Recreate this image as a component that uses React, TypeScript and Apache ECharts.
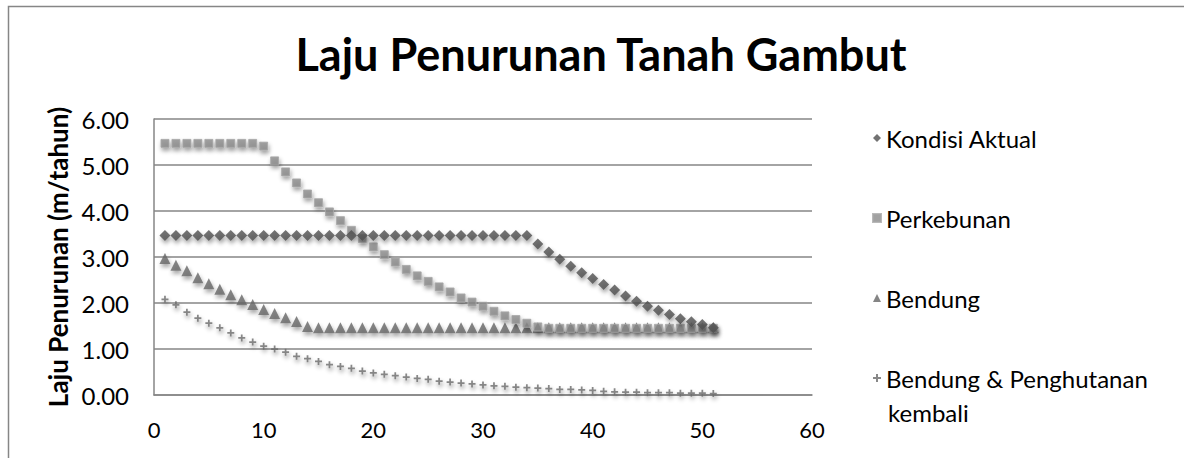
import React, { useEffect, useRef } from "react";
import * as echarts from "echarts";

const titleText = "Laju Penurunan Tanah Gambut";
const yAxisName = "Laju Penurunan (m/tahun)";
const seriesNames = ["Kondisi Aktual", "Perkebunan", "Bendung", "Bendung & Penghutanan"];

const kondisiAktual = [
  3.47, 3.47, 3.47, 3.47, 3.47, 3.47, 3.47, 3.47, 3.47, 3.47,
  3.47, 3.47, 3.47, 3.47, 3.47, 3.47, 3.47, 3.47, 3.47, 3.47,
  3.47, 3.47, 3.47, 3.47, 3.47, 3.47, 3.47, 3.47, 3.47, 3.47,
  3.47, 3.47, 3.47, 3.47, 3.28, 3.11, 2.95, 2.80, 2.66, 2.53,
  2.40, 2.28, 2.15, 2.04, 1.93, 1.84, 1.75, 1.66, 1.59, 1.53,
  1.46,
];
const perkebunan = [
  5.47, 5.47, 5.47, 5.47, 5.47, 5.47, 5.47, 5.47, 5.47, 5.41,
  5.09, 4.85, 4.61, 4.37, 4.18, 3.98, 3.79, 3.58, 3.40, 3.22,
  3.05, 2.89, 2.73, 2.59, 2.47, 2.35, 2.24, 2.11, 2.02, 1.93,
  1.82, 1.72, 1.64, 1.56, 1.48, 1.45, 1.45, 1.45, 1.45, 1.45,
  1.45, 1.45, 1.45, 1.45, 1.45, 1.45, 1.45, 1.45, 1.45, 1.45,
  1.45,
];
const bendung = [
  2.97, 2.82, 2.70, 2.55, 2.42, 2.30, 2.18, 2.07, 1.97, 1.86,
  1.77, 1.68, 1.60, 1.49, 1.46, 1.46, 1.46, 1.46, 1.46, 1.46,
  1.46, 1.46, 1.46, 1.46, 1.46, 1.46, 1.46, 1.46, 1.46, 1.46,
  1.46, 1.46, 1.46, 1.46, 1.46, 1.46, 1.46, 1.46, 1.46, 1.46,
  1.46, 1.46, 1.46, 1.46, 1.46, 1.46, 1.46, 1.46, 1.46, 1.46,
  1.46,
];
const penghutanan = [
  2.08, 1.96, 1.80, 1.67, 1.56, 1.46, 1.35, 1.24, 1.15, 1.06,
  1.00, 0.93, 0.84, 0.79, 0.73, 0.66, 0.62, 0.58, 0.52, 0.48,
  0.45, 0.42, 0.39, 0.36, 0.34, 0.30, 0.28, 0.26, 0.24, 0.22,
  0.20, 0.19, 0.17, 0.16, 0.15, 0.14, 0.12, 0.12, 0.11, 0.10,
  0.08, 0.07, 0.06, 0.06, 0.05, 0.05, 0.05, 0.04, 0.04, 0.04,
  0.03,
];

const FONT = "Lato";
const GRAY = "#868686";
const PLUS = "path://M3,0h2v3h3v2h-3v3h-2v-3h-3v-2h3z";

function toPairs(values: number[]) {
  return values.map((v, i) => [i + 1, v]);
}

const shadow = {
  shadowBlur: 4,
  shadowColor: "rgba(0,0,0,0.45)",
  shadowOffsetX: 1,
  shadowOffsetY: 3,
};

export default function App() {
  const ref = useRef<HTMLDivElement>(null);
  useEffect(() => {
    if (!ref.current) return;
    const chart = echarts.init(ref.current, undefined, { renderer: "svg" });
    chart.setOption({
      animation: false,
      backgroundColor: "#ffffff",
      title: {
        text: titleText,
        left: 596,
        textAlign: "center",
        top: 26,
        textStyle: { fontFamily: FONT, fontSize: 45, fontWeight: "bold", color: "#000" },
      },
      grid: { left: 154, top: 119, width: 658, height: 276 },
      xAxis: {
        type: "value",
        min: 0,
        max: 60,
        interval: 10,
        axisLine: { show: true, lineStyle: { color: GRAY, width: 1.5 } },
        axisTick: { show: false },
        splitLine: { show: false },
        axisLabel: { margin: 23, fontFamily: FONT, fontSize: 22, color: "#000" },
      },
      yAxis: {
        type: "value",
        min: 0,
        max: 6,
        interval: 1,
        name: yAxisName,
        nameLocation: "middle",
        nameGap: 66,
        nameTextStyle: { fontFamily: FONT, fontSize: 26, fontWeight: "bold", color: "#000" },
        axisLine: { show: true, lineStyle: { color: GRAY, width: 1.5 } },
        axisTick: { show: false },
        splitLine: { show: true, lineStyle: { color: GRAY, width: 1.5 } },
        axisLabel: {
          margin: 25,
          fontFamily: FONT,
          fontSize: 24,
          color: "#000",
          formatter: (v: number) => v.toFixed(2),
        },
      },
      legend: {
        orient: "vertical",
        left: 867,
        top: 120,
        itemWidth: 8,
        itemHeight: 8,
        itemGap: 54,
        data: seriesNames,
        textStyle: { fontFamily: FONT, fontSize: 24, color: "#000", lineHeight: 26 },
        itemStyle: { shadowBlur: 0, shadowOffsetX: 0, shadowOffsetY: 0 },
      },
      graphic: [
        {
          type: "rect",
          shape: { x: 8.5, y: 6.5, width: 1300, height: 600 },
          style: { fill: "none", stroke: GRAY, lineWidth: 1.5 },
          silent: true,
        },
        {
          type: "text",
          left: 888,
          top: 400,
          style: { text: "kembali", font: `24px ${FONT}`, fill: "#000" },
        },
      ],
      series: [
        {
          name: seriesNames[0],
          type: "scatter",
          symbol: "diamond",
          symbolSize: 11,
          data: toPairs(kondisiAktual),
          itemStyle: { color: "#4f4f4f", ...shadow },
          z: 4,
        },
        {
          name: seriesNames[1],
          type: "scatter",
          symbol: "rect",
          symbolSize: 8,
          data: toPairs(perkebunan),
          itemStyle: { color: "#8a8a8a", borderColor: "#a8a8a8", borderWidth: 1, ...shadow },
          z: 3,
        },
        {
          name: seriesNames[2],
          type: "scatter",
          symbol: "triangle",
          symbolSize: 11,
          data: toPairs(bendung),
          itemStyle: { color: "#666666", ...shadow },
          z: 2,
        },
        {
          name: seriesNames[3],
          type: "scatter",
          symbol: PLUS,
          symbolSize: 7,
          data: toPairs(penghutanan),
          itemStyle: { color: "#6a6a6a", ...shadow },
          z: 2,
        },
      ],
    });
    return () => chart.dispose();
  }, []);
  return (
    <div
      ref={ref}
      style={{ position: "absolute", left: 0, top: 0, width: 1184, height: 458 }}
    />
  );
}
